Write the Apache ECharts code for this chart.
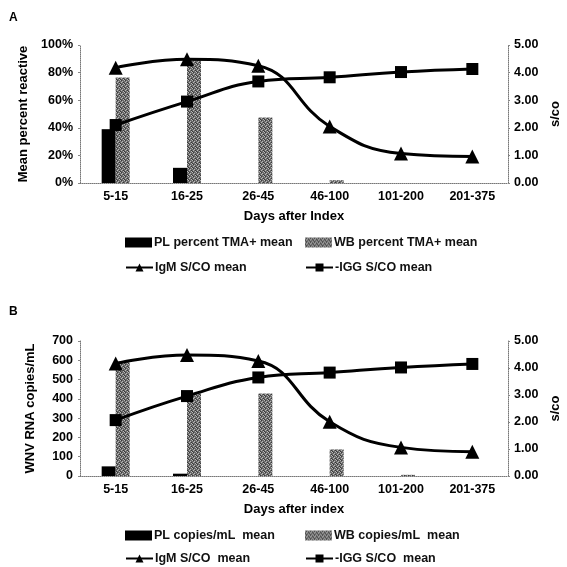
<!DOCTYPE html>
<html><head><meta charset="utf-8">
<script src="https://cdn.jsdelivr.net/npm/echarts@6/dist/echarts.min.js"></script>
<style>html,body{margin:0;padding:0;background:#fff}#c{width:567px;height:567px}</style>
</head><body><div id="c"></div>
<script>
const categories = ['5-15','16-25','26-45','46-100','101-200','201-375'];
// Panel A
const plPercentA = [39, 11, 0, 0, 0, 0];
const wbPercentA = [76.5, 90, 47.5, 2, 0, 0];
const igmA = [4.18, 4.48, 4.25, 2.05, 1.07, 0.96];
const iggA = [2.1, 2.95, 3.68, 3.83, 4.02, 4.13];
// Panel B
const plCopiesB = [50, 12, 0, 0, 0, 0];
const wbCopiesB = [595, 428, 428, 138, 6, 0];
const igmB = [4.17, 4.48, 4.26, 2.01, 1.06, 0.90];
const iggB = [2.07, 2.96, 3.65, 3.83, 4.02, 4.15];

// deterministic stipple pattern for WB bars
const pc = document.createElement('canvas');
pc.width = 4; pc.height = 4;
const px = pc.getContext('2d');
px.fillStyle = '#6a6a6a'; px.fillRect(0,0,4,4);
px.fillStyle = '#b8b8b8';
[[0,0],[2,1],[1,2],[3,3]].forEach(p=>px.fillRect(p[0],p[1],1,1));
px.fillStyle = '#3a3a3a';
[[1,0],[3,2],[0,3]].forEach(p=>px.fillRect(p[0],p[1],1,1));
const wbColor = {image: pc, repeat: 'repeat'};

const FONT = 'Liberation Sans, Arial, sans-serif';
const lbl = {fontFamily: FONT, fontWeight: 'bold', fontSize: 12.5, color: '#000'};
const ttl = Object.assign({}, lbl, {fontSize: 13});
const dotted = {show: true, lineStyle: {color: '#777', type: 'dotted', width: 1}};

function xAx(gi, name) {
  return {type: 'category', gridIndex: gi, data: categories,
    axisLine: dotted, axisTick: {show: false},
    axisLabel: Object.assign({margin: 7}, lbl),
    name: name, nameLocation: 'middle', nameGap: 27, nameTextStyle: ttl};
}
function yLeft(gi, max, interval, fmt, name, gap) {
  return {type: 'value', gridIndex: gi, min: 0, max: max, interval: interval,
    axisLine: dotted, axisTick: {show: true, length: 2, lineStyle: {color: '#888'}},
    splitLine: {show: false},
    axisLabel: Object.assign({formatter: fmt, margin: 7}, lbl),
    name: name, nameLocation: 'middle', nameRotate: 90, nameGap: gap, nameTextStyle: ttl};
}
function yRight(gi) {
  return {type: 'value', gridIndex: gi, position: 'right', min: 0, max: 5, interval: 1,
    axisLine: dotted, axisTick: {show: true, length: 2, lineStyle: {color: '#888'}},
    splitLine: {show: false},
    axisLabel: Object.assign({formatter: v => v.toFixed(2), margin: 6}, lbl),
    name: 's/co', nameLocation: 'middle', nameRotate: 90, nameGap: 41, nameTextStyle: ttl};
}
function bar(name, data, xi, yi, color) {
  return {name, type: 'bar', xAxisIndex: xi, yAxisIndex: yi, data,
    barWidth: 14, barGap: '0%', itemStyle: {color}, z: 1};
}
function line(name, data, xi, yi, symbol, size) {
  return {name, type: 'line', xAxisIndex: xi, yAxisIndex: yi, data,
    smooth: 0.45, symbol, symbolSize: size,
    lineStyle: {color: '#000', width: 3}, itemStyle: {color: '#000'}, z: 3};
}
function leg(name, left, top, icon) {
  const l = {data: [name], left, top, itemWidth: 27, itemHeight: 10, itemGap: 0,
    textStyle: {fontFamily: FONT, fontSize: 12.5, fontWeight: 'bold', color: '#111', padding: [0,0,0,-3]},
    selectedMode: false};
  if (icon) l.icon = icon;
  return l;
}

const chart = echarts.init(document.getElementById('c'), null, {renderer: 'canvas'});
chart.setOption({
  animation: false,
  backgroundColor: '#fff',
  grid: [
    {left: 80, right: 59, top: 45, height: 138, containLabel: false, outerBoundsMode: 'none'},
    {left: 80, right: 59, top: 341, height: 135, containLabel: false, outerBoundsMode: 'none'}
  ],
  xAxis: [xAx(0, 'Days after Index'), xAx(1, 'Days after index')],
  yAxis: [
    yLeft(0, 100, 20, v => v + '%', 'Mean percent reactive', 42),
    yRight(0),
    yLeft(1, 700, 100, v => String(v), 'WNV RNA copies/mL', 43),
    yRight(1)
  ],
  legend: [
    leg('PL percent TMA+ mean', 120, 231, 'rect'),
    leg('WB percent TMA+ mean', 300, 231, 'rect'),
    leg('IgM S/CO mean', 120, 256),
    leg('-IGG S/CO mean', 300, 256),
    leg('PL copies/mL  mean', 120, 524, 'rect'),
    leg('WB copies/mL  mean', 300, 524, 'rect'),
    leg('IgM S/CO  mean', 120, 547),
    leg('-IGG S/CO  mean', 300, 547)
  ],
  series: [
    bar('PL percent TMA+ mean', plPercentA, 0, 0, '#000'),
    bar('WB percent TMA+ mean', wbPercentA, 0, 0, wbColor),
    line('IgM S/CO mean', igmA, 0, 1, 'triangle', 14),
    line('-IGG S/CO mean', iggA, 0, 1, 'rect', 12),
    bar('PL copies/mL  mean', plCopiesB, 1, 2, '#000'),
    bar('WB copies/mL  mean', wbCopiesB, 1, 2, wbColor),
    line('IgM S/CO  mean', igmB, 1, 3, 'triangle', 14),
    line('-IGG S/CO  mean', iggB, 1, 3, 'rect', 12)
  ],
  graphic: [
    {type: 'text', left: 9, top: 12, style: {text: 'A', font: 'bold 12px Liberation Sans, Arial', fill: '#000'}},
    {type: 'text', left: 9, top: 306, style: {text: 'B', font: 'bold 12px Liberation Sans, Arial', fill: '#000'}}
  ]
});
</script>
</body></html>
